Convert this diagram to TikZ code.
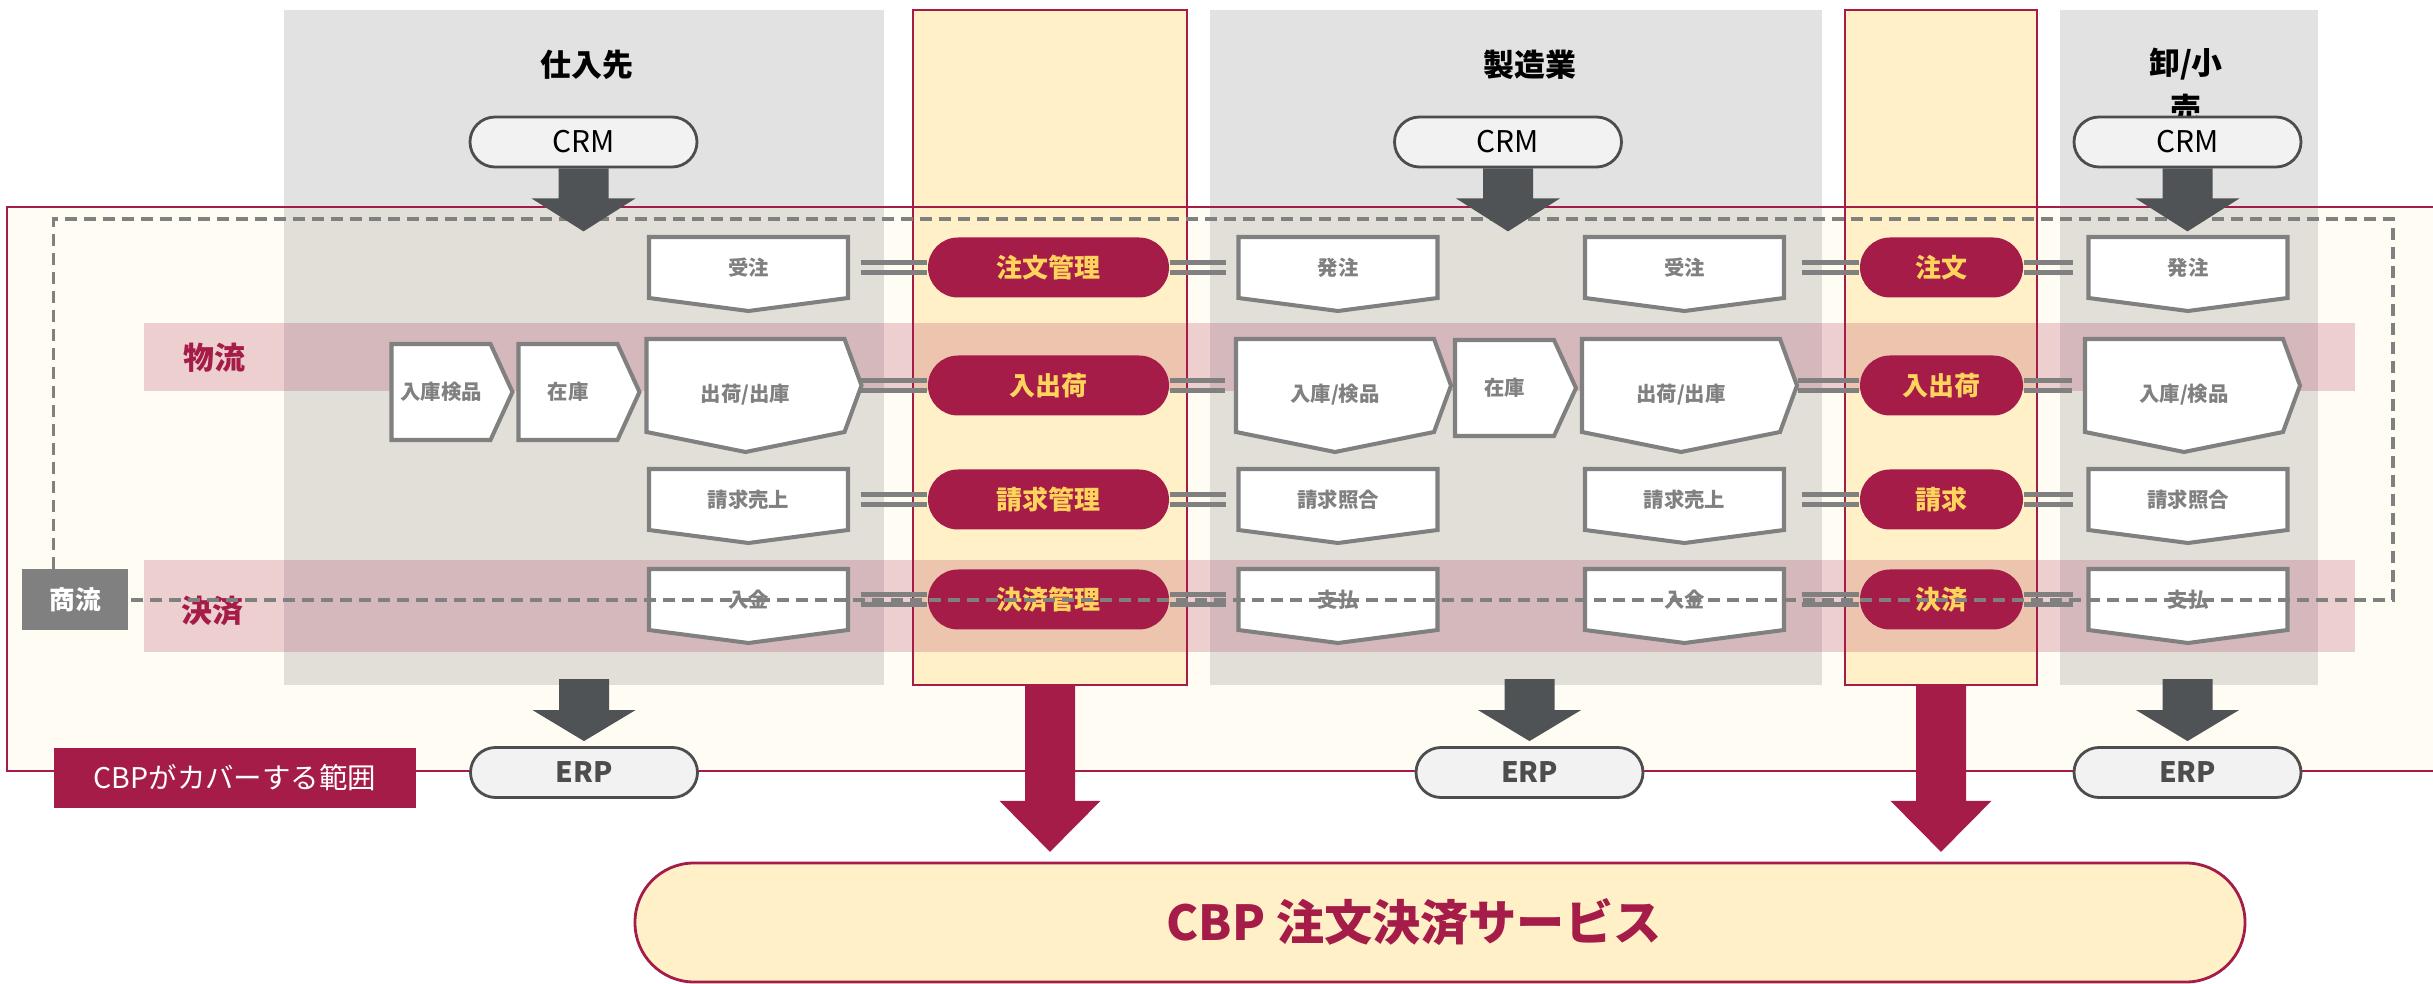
\documentclass[tikz,border=0pt]{standalone}
\usepackage{fontspec}
\setmainfont{Noto Sans CJK JP}
\usetikzlibrary{calc}

\definecolor{cbpred}{HTML}{A51C48}
\definecolor{cbpyellow}{HTML}{FFF0C8}
\definecolor{pilltext}{HTML}{FFD45C}
\definecolor{boxgray}{HTML}{808080}
\definecolor{pillgray}{HTML}{F2F2F2}
\definecolor{pilledge}{HTML}{4D4D4D}
\definecolor{arrowgray}{HTML}{505355}
\definecolor{cream}{HTML}{FFFCF3}

\tikzset{
  boxline/.style={draw=boxgray, line width=1.15pt, fill=white},
  boxtext/.style={inner sep=0pt, text=boxgray, font=\fontsize{5.8}{7}\selectfont\bfseries},
  link/.style={draw=boxgray, line width=1.15pt},
  pill/.style={fill=cbpred, text=pilltext, rounded corners=3mm, minimum height=6mm,
    inner sep=0pt, font=\fontsize{7.4}{9}\selectfont\bfseries},
  ycol/.style={draw=cbpred, line width=0.5pt, fill=cbpyellow, minimum height=67.5mm, inner sep=0pt},
  title/.style={inner sep=0pt, font=\fontsize{8.8}{13}\selectfont\bfseries},
  bandlabel/.style={inner sep=0pt, text=cbpred, font=\fontsize{8.8}{10}\selectfont\bfseries},
  sysbox/.style={draw=pilledge, line width=0.8pt, fill=pillgray, rounded corners=2.5mm,
    minimum width=22.7mm, minimum height=5mm, inner sep=0pt, font=\fontsize{8.5}{10}\selectfont},
  erpbox/.style={sysbox, text=pilledge, font=\fontsize{8}{10}\selectfont\bfseries},
  flowtag/.style={fill=boxgray, text=white, minimum width=10.6mm, minimum height=6.1mm,
    inner sep=0pt, font=\fontsize{7.3}{9}\selectfont\bfseries},
  coverlabel/.style={fill=cbpred, text=white, minimum width=36.2mm, minimum height=6mm,
    inner sep=0pt, font=\fontsize{8.1}{10}\selectfont},
  dashline/.style={draw=boxgray, line width=1pt, dash pattern=on 1.2mm off 0.7mm},
  svc/.style={draw=cbpred, line width=0.8pt, fill=cbpyellow, rounded corners=5.9mm,
    minimum width=161mm, minimum height=11.9mm, inner sep=0pt},
  svctext/.style={inner sep=0pt, text=cbpred, font=\fontsize{13.7}{16}\selectfont\bfseries}
}

% box with point at the bottom
\newcommand{\downbox}[3]{%
  \draw[boxline] ($(#2)+(-99.5,-30.5)$) -- ($(#2)+(99.5,-30.5)$) -- ($(#2)+(99.5,30.5)$)
    -- ($(#2)+(0,43.5)$) -- ($(#2)+(-99.5,30.5)$) -- cycle;
  \node[boxtext, minimum width=19.9mm, minimum height=6.1mm] (#1) at (#2) {#3};
}
% small box with point to the right
\newcommand{\rightbox}[3]{%
  \draw[boxline] ($(#2)+(-49.5,-48)$) -- ($(#2)+(49.5,-48)$) -- ($(#2)+(71.5,0)$)
    -- ($(#2)+(49.5,48)$) -- ($(#2)+(-49.5,48)$) -- cycle;
  \node[boxtext, minimum width=9.9mm, minimum height=9.6mm] (#1) at (#2) {#3};
}
% box with points to the right and at the bottom
\newcommand{\flowbox}[3]{%
  \draw[boxline] ($(#2)+(-99,-46.5)$) -- ($(#2)+(99,-46.5)$) -- ($(#2)+(116,0)$)
    -- ($(#2)+(99,46.5)$) -- ($(#2)+(0,66.5)$) -- ($(#2)+(-99,46.5)$) -- cycle;
  \node[boxtext, minimum width=19.8mm, minimum height=9.3mm,
    label={[boxtext, yshift=-0.9mm]center:#3}] (#1) at (#2) {};
}
% double line
\newcommand{\twin}[4]{%
  \foreach \dy in {-0.5mm,0.5mm}
    \draw[link] ([xshift=#3, yshift=\dy]#1.east) -- ([xshift=#4, yshift=\dy]#2.west);
}
% fat arrow pointing down
\newcommand{\fatarrow}[6]{%
  \fill[#1] ($(#2)+(-#5,0)$) -- ++(0,#3) -- ++(#5-#6,0) -- ++(#6,#4)
    -- ++(#6,-#4) -- ++(#5-#6,0) -- ++(0,-#3) -- cycle;
}

\begin{document}
\begin{tikzpicture}[x=0.1mm, y=-0.1mm]
\useasboundingbox (0,0) rectangle (2433,984);

% area covered by CBP
\fill[cream] (7,207) rectangle (2445,771);

% columns
\foreach \xa/\xb in {284/884, 1210/1822, 2060/2318}
  \fill[boxgray, fill opacity=0.23] (\xa,10) rectangle (\xb,685);
\node[ycol, minimum width=27.4mm] (yc1) at (1050,347.5) {};
\node[ycol, minimum width=19.2mm] (yc2) at (1941,347.5) {};

% bands
\fill[cbpred, fill opacity=0.2] (144,323) rectangle (2355,391);
\fill[cbpred, fill opacity=0.2] (144,560) rectangle (2355,652);
\node[bandlabel] (logi) at (214,358) {物流};
\node[bandlabel] (pay) at (212,611) {決済};

\draw[cbpred, line width=0.7pt] (2445,207) -- (7,207) -- (7,771) -- (2445,771);

% titles
\node[title] (t1) at (587,65) {仕入先};
\node[title] (t2) at (1530,65) {製造業};
\node[title, align=center] (t3) at (2186,86) {卸/小\\売};

% supplier
\downbox{jc1}{748.5,267.5}{受注}
\rightbox{ri1}{441,392}{入庫検品}
\rightbox{st1}{568,392}{在庫}
\flowbox{sh1}{745.5,385.5}{出荷/出庫}
\downbox{bs1}{748.5,499.5}{請求売上}
\downbox{pr1}{748.5,599.5}{入金}

% manufacturer
\downbox{po2}{1338,267.5}{発注}
\downbox{jc2}{1684.5,267.5}{受注}
\flowbox{rc2}{1335,385.5}{入庫/検品}
\rightbox{st2}{1504.5,388}{在庫}
\flowbox{sh2}{1681,385.5}{出荷/出庫}
\downbox{bc2}{1338,499.5}{請求照合}
\downbox{bs2}{1684.5,499.5}{請求売上}
\downbox{py2}{1338,599.5}{支払}
\downbox{pr2}{1684.5,599.5}{入金}

% retailer
\downbox{po3}{2188,267.5}{発注}
\flowbox{rc3}{2184,385.5}{入庫/検品}
\downbox{bc3}{2188,499.5}{請求照合}
\downbox{py3}{2188,599.5}{支払}

% CBP services
\node[pill, minimum width=24.1mm] (om) at (1048.5,267.5) {注文管理};
\node[pill, minimum width=24.1mm] (io1) at (1048.5,385.5) {入出荷};
\node[pill, minimum width=24.1mm] (bm) at (1048.5,499.5) {請求管理};
\node[pill, minimum width=24.1mm] (pm) at (1048.5,599.5) {決済管理};
\node[pill, minimum width=16.3mm] (od) at (1941.5,267.5) {注文};
\node[pill, minimum width=16.3mm] (io2) at (1941.5,385.5) {入出荷};
\node[pill, minimum width=16.3mm] (bl) at (1941.5,499.5) {請求};
\node[pill, minimum width=16.3mm] (st) at (1941.5,599.5) {決済};

\twin{jc1}{om}{1.2mm}{0mm}
\twin{om}{po2}{0mm}{-1.2mm}
\twin{sh1}{io1}{1.6mm}{0mm}
\twin{io1}{rc2}{0mm}{-1.0mm}
\twin{bs1}{bm}{1.2mm}{0mm}
\twin{bm}{bc2}{0mm}{-1.2mm}
\twin{pr1}{pm}{1.2mm}{0mm}
\twin{pm}{py2}{0mm}{-1.2mm}
\twin{jc2}{od}{1.7mm}{0mm}
\twin{od}{po3}{0mm}{-1.5mm}
\twin{sh2}{io2}{1.7mm}{0mm}
\twin{io2}{rc3}{0mm}{-1.2mm}
\twin{bs2}{bl}{1.7mm}{0mm}
\twin{bl}{bc3}{0mm}{-1.5mm}
\twin{pr2}{st}{1.7mm}{0mm}
\twin{st}{py3}{0mm}{-1.5mm}

% commercial flow
\node[flowtag] (sho) at (75,600) {商流};
\coordinate (dtl) at (53.5,219);
\draw[dashline] (sho.north -| dtl) -- (dtl) -- (2393,219) -- (2393,600) -- (sho.east);

% CRM / ERP
\node[sysbox] (crm1) at (583.5,142) {CRM};
\node[sysbox] (crm2) at (1508,142) {CRM};
\node[sysbox] (crm3) at (2187.5,142) {CRM};
\fatarrow{arrowgray}{crm1.south}{30}{33}{25}{52}
\fatarrow{arrowgray}{crm2.south}{30}{33}{25}{52}
\fatarrow{arrowgray}{crm3.south}{30}{33}{25}{52}

\node[erpbox] (erp1) at (584,772.5) {ERP};
\node[erpbox] (erp2) at (1529.5,772.5) {ERP};
\node[erpbox] (erp3) at (2187.5,772.5) {ERP};
\foreach \e in {1,2,3} {
  \coordinate (ea\e) at ($(erp\e.north)+(0,-67)$);
  \fatarrow{arrowgray}{ea\e}{31}{31}{25}{51.5}
}

\node[coverlabel] (cover) at (235,778) {CBPがカバーする範囲};

% order and payment service
\fatarrow{cbpred}{yc1.south}{115}{51}{25}{50.5}
\fatarrow{cbpred}{yc2.south}{115}{51}{25}{50.5}
\node[svc] (svc) at (1440,922.5) {};
\node[svctext] (svclabel) at ([xshift=-2.6mm]svc.center) {CBP 注文決済サービス};
\end{tikzpicture}
\end{document}
